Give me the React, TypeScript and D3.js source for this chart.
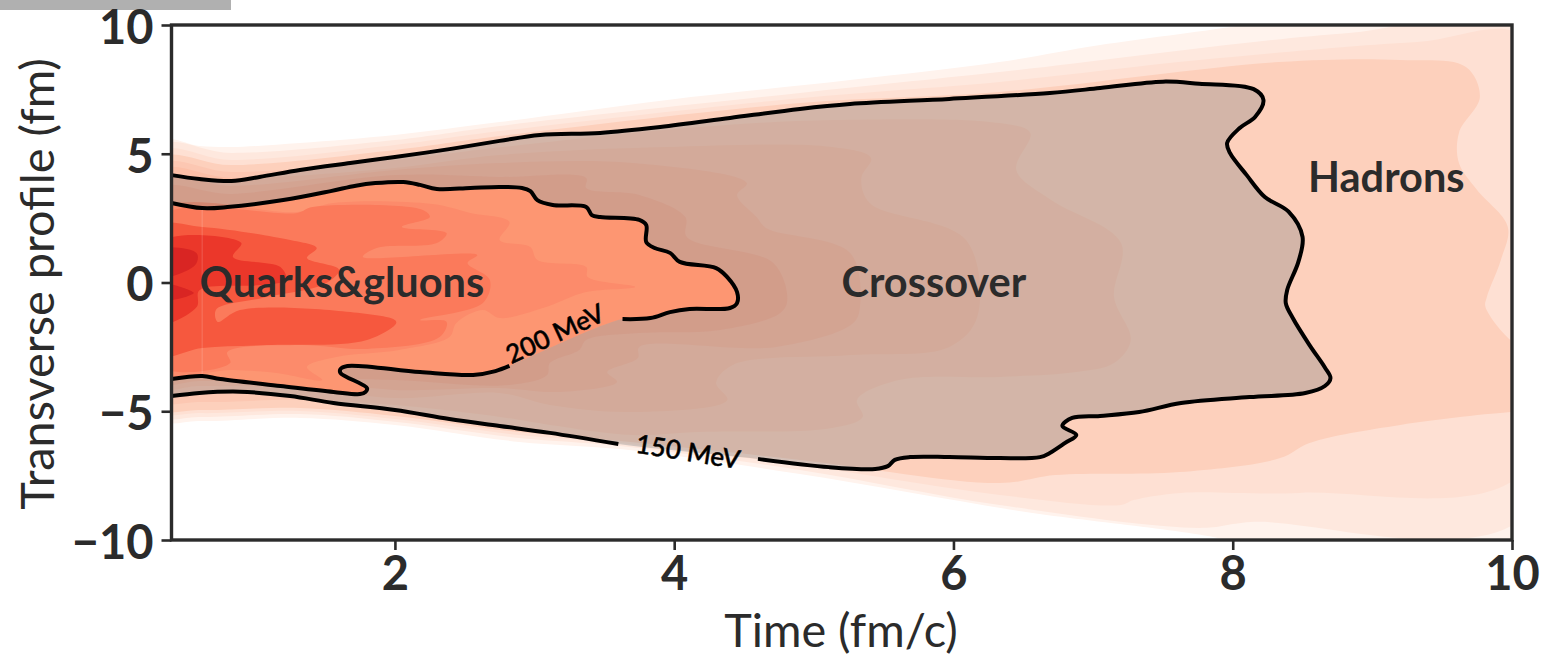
import * as d3 from 'd3';
import React, { useEffect, useRef } from 'react';

type Pt = [number, number]; // [time fm/c, transverse fm]

const xTicks = [2, 4, 6, 8, 10];
const yTicks = [-10, -5, 0, 5, 10];

// temperature bands, outermost to innermost
const band1: Pt[] = [[0.3,5.46],[0.6,5.3],[0.83,5.26],[1.32,5.42],[2,5.73],[2.75,6.23],[3.95,7.09],[5.26,7.86],[6.33,8.56],[7.05,9.22],[8.03,9.96],[8.6,10.5],[10.1,10.5],[10.1,-10.5],[8.2,-10.5],[7.96,-10],[6.47,-8.87],[4.9,-7.44],[3.61,-6.47],[2.89,-6.19],[2,-5.53],[1.32,-5.26],[0.6,-5.38],[0.3,-5.26]];
const band2: Pt[] = [[0.3,5.26],[0.83,5.03],[2,5.53],[2.75,6.08],[4.9,7.36],[6.33,8.17],[8.83,9.69],[10.1,9.92],[10.1,-9.03],[8.13,-9.3],[7.76,-9.53],[6.33,-8.64],[4.9,-7.28],[3.61,-6.35],[2.89,-6.04],[2,-5.41],[1.32,-5.11],[0.6,-5.22],[0.3,-5.11]];
const band3: Pt[] = [[0.3,5.03],[0.83,4.76],[2,5.34],[2.75,5.88],[4.9,7.16],[6.33,7.79],[7.76,8.64],[9.32,9.34],[10.1,9.46],[10.1,-7.28],[8.48,-8.17],[7.63,-8.17],[7.29,-8.45],[7.2,-8.64],[6.33,-8.25],[4.9,-7.09],[3.61,-6.23],[2.89,-5.92],[2,-5.3],[1.32,-4.99],[0.6,-5.07],[0.3,-4.95]];
const band4: Pt[] = [[0.3,4.76],[0.83,4.56],[2,5.15],[2.75,5.69],[4.9,6.97],[6.33,7.4],[8.33,8.56],[9.2,8.64],[9.67,8.37],[9.77,7.2],[9.62,5.81],[9.62,4.64],[9.75,3.59],[9.97,2.16],[9.92,0.87],[9.82,-0.56],[9.81,-0.95],[10.01,-2.31],[10.1,-2.4],[10.1,-5.03],[10,-5.03],[9.2,-5.53],[8.55,-6.23],[8.34,-6.82],[7.62,-7.36],[6.73,-7.48],[6.33,-7.79],[4.9,-6.89],[3.61,-6.16],[2.89,-5.81],[2,-5.18],[1.32,-4.87],[0.6,-4.95],[0.3,-4.83]];
const band5: Pt[] = [[0.3,4.52],[0.83,4.29],[2,4.76],[2.75,5.25],[4.18,6.04],[5.13,6.31],[6.33,6.19],[6.55,5.81],[6.45,4.37],[6.7,3.2],[7.2,1.53],[7.15,-0.56],[7.27,-2.23],[7.15,-3.13],[6.88,-3.48],[6.33,-3.67],[5.61,-3.79],[5.31,-4.56],[5.35,-5.22],[5.13,-5.65],[4.18,-5.81],[3.7,-5.92],[3.11,-5.53],[2.75,-5.22],[2,-4.76],[1.32,-4.56],[0.6,-4.64],[0.3,-4.52]];
const band6: Pt[] = [[0.3,4.29],[0.83,4.06],[2,4.45],[2.75,4.95],[3.95,5.26],[5.13,5.26],[5.41,4.83],[5.34,4.06],[5.4,3.09],[6.09,1.65],[6.17,-1.34],[5.97,-2.5],[5.26,-2.82],[4.42,-3.2],[4.3,-3.9],[4.38,-4.56],[3.7,-5.03],[3.11,-4.76],[2.75,-4.29],[2,-4.49],[1.32,-4.1],[0.6,-4.02],[0.3,-4.02]];
const band7: Pt[] = [[0.3,3.98],[0.83,3.75],[2,4.37],[2.75,4.64],[3.7,4.64],[4.52,3.86],[4.45,3.4],[4.59,2.54],[4.66,2.11],[5.26,1.15],[5.33,-0.95],[5.28,-1.58],[4.73,-2.5],[3.75,-2.5],[3.74,-2.93],[3.52,-3.48],[3.59,-3.86],[3.18,-4.25],[2.75,-4.1],[2,-4.17],[1.32,-3.83],[0.6,-3.83],[0.3,-3.83]];
const band8: Pt[] = [[0.3,3.59],[0.83,3.44],[2,4.17],[2.75,4.1],[3.37,4.06],[3.37,3.67],[3.75,3.4],[4.08,2.54],[4.09,1.77],[4.71,0.76],[4.81,-0.68],[4.76,-1.18],[4.33,-1.84],[3.75,-1.96],[3.37,-2.23],[3.32,-2.62],[3.11,-3.13],[3.09,-3.59],[2.82,-3.98],[2,-3.79],[1.32,-3.71],[0.6,-3.67],[0.3,-3.67]];
const band9: Pt[] = [[0.3,2.74],[1.3,2.74],[1.56,3.09],[2.27,3.05],[2.54,2.7],[2.82,2.35],[2.75,1.65],[2.97,1.38],[3.02,0.87],[3.37,0.6],[3.38,0.21],[3.72,-0.17],[3.37,-0.37],[3.06,-0.99],[2.75,-1.38],[2.63,-1.07],[2.44,-1.57],[2.39,-2.12],[2.03,-2.62],[1.58,-2.89],[1.37,-3.28],[1.48,-3.79],[1.15,-3.51],[0.84,-3.4],[0.3,-3.4]];
const band10: Pt[] = [[0.3,2.5],[1.3,2.7],[1.41,2.93],[2.2,2.82],[2.25,2.54],[2.05,2.16],[2.37,1.92],[2.3,1.53],[1.87,1.34],[1.77,0.99],[2.59,1.07],[2.52,0.76],[2.68,0.1],[2.63,-0.8],[2.18,-1.46],[2.37,-1.53],[2.32,-2.12],[1.8,-2.58],[1.32,-2.43],[0.8,-2.7],[0.82,-3.13],[0.3,-3.2]];
const band11: Pt[] = [[0.3,2.16],[0.62,2.16],[1.25,1.65],[1.44,1.34],[1.37,0.95],[1.6,0.5],[1.5,-0.05],[1.05,-0.6],[0.72,-1.05],[0.73,-1.53],[0.89,-1.07],[1.68,-1.15],[2.01,-1.53],[1.8,-2.23],[1.08,-2.43],[0.62,-2.54],[0.3,-2.8]];
const band12: Pt[] = [[0.3,1.53],[0.9,1.53],[0.84,0.99],[1.18,0.6],[1.22,0.1],[1.03,-0.1],[0.6,-0.3],[0.58,-0.95],[0.3,-1.6]];
const band13a: Pt[] = [[0.3,1.26],[0.58,1.14],[0.57,0.68],[0.3,0.21]];
const band13b: Pt[] = [[0.3,-0.04],[0.56,-0.41],[0.3,-0.68]];

// 150 MeV and 200 MeV isotherms, in two arcs each, broken where the label sits
const contour150a: Pt[] = [[0.4,4.17],[0.6,4.02],[0.83,3.94],[1.03,4.1],[1.32,4.37],[1.68,4.64],[2,4.87],[2.39,5.18],[2.75,5.5],[3.04,5.73],[3.47,5.81],[3.9,6.04],[4.4,6.39],[4.9,6.74],[5.26,6.93],[5.97,7.13],[6.69,7.36],[7.05,7.55],[7.5,7.8],[7.76,7.72],[8.15,7.51],[8.22,7.09],[8.16,6.43],[8.05,6],[7.96,5.42],[7.98,5.03],[8.1,4.17],[8.23,3.32],[8.4,2.75],[8.5,1.77],[8.47,0.8],[8.39,-0.29],[8.38,-0.8],[8.43,-1.38],[8.55,-2.43],[8.66,-3.3],[8.7,-3.71],[8.66,-4.02],[8.52,-4.29],[8.12,-4.45],[7.63,-4.68],[7.33,-5.03],[7.05,-5.18],[6.85,-5.26],[6.78,-5.57],[6.88,-5.92],[6.8,-6.23],[6.69,-6.62],[6.62,-6.78],[6.33,-6.82],[5.97,-6.78],[5.69,-6.78],[5.58,-6.89],[5.53,-7.13],[5.44,-7.24],[5.11,-7.17],[4.6,-6.85]];
const contour150b: Pt[] = [[3.6,-6.27],[3.11,-5.84],[2.75,-5.57],[2.39,-5.3],[2,-4.95],[1.56,-4.68],[1.25,-4.41],[0.89,-4.24],[0.6,-4.29],[0.4,-4.41]];
const contour200a: Pt[] = [[0.4,3.09],[0.62,2.89],[0.8,2.93],[1.2,3.2],[1.54,3.55],[1.72,3.76],[1.86,3.86],[2.06,3.9],[2.18,3.79],[2.3,3.63],[2.54,3.67],[2.75,3.71],[2.91,3.67],[2.97,3.55],[3.02,3.2],[3.13,3.01],[3.37,2.93],[3.41,2.62],[3.47,2.54],[3.75,2.43],[3.8,2.23],[3.8,1.57],[3.86,1.34],[3.97,1.15],[4.04,0.8],[4.3,0.56],[4.38,0.21],[4.45,-0.37],[4.45,-0.8],[4.4,-0.99],[4.11,-1.03],[3.97,-1.15],[3.83,-1.38],[3.63,-1.42]];
const contour200b: Pt[] = [[2.82,-3.24],[2.72,-3.44],[2.56,-3.59],[2.18,-3.48],[1.66,-3.24],[1.61,-3.36],[1.61,-3.51],[1.8,-4.1],[1.79,-4.25],[1.75,-4.33],[1.56,-4.25],[1.18,-4.02],[0.75,-3.75],[0.62,-3.63],[0.4,-3.75]];

const seamTime = 0.62;
const seamRange = [-3.63, 2.89];

const regionNames = ['Quarks&gluons', 'Crossover', 'Hadrons'];
const regionTimes = [1.62, 5.86, 9.1];
const regionProfiles = [0, 0, 4.06];

const isoNames = ['200 MeV', '150 MeV'];
const isoTimes = [3.145, 4.1];
const isoProfiles = [-1.96, -6.54];
const isoAngles = [-25, 9];

const bandColors = ['#fff3ed', '#fee8de', '#fee0d3', '#fdd0bc', '#fcc7b2', '#fcbfa7', '#fcb69c', '#fbac90'];
const coreBands = [band9, band10, band11, band12, band13a, band13b];
const coreColors = ['#fc8b6b', '#fb7a5b', '#f6583e', '#eb372a', '#d92523', '#d92523'];

const width = 1544;
const height = 659;
const left = 171.5;
const right = 1512;
const top = 25;
const bottom = 540;
const ink = '#2b2b2b';
const font = 'Lato, sans-serif';

const App = () => {
  const ref = useRef<SVGSVGElement>(null);

  useEffect(() => {
    const svg = d3.select(ref.current);
    svg.selectAll('*').remove();

    const x = d3.scaleLinear().domain([0.4, 10]).range([left, right]);
    const y = d3.scaleLinear().domain([-10, 10]).range([bottom, top]);

    // leftover grey strip in the corner of the source image
    svg.append('rect').attr('width', 231).attr('height', 10).attr('fill', '#b0b0b0');

    svg.append('clipPath').attr('id', 'plot-clip').append('rect')
      .attr('x', left).attr('y', top).attr('width', right - left).attr('height', bottom - top);

    const plot = svg.append('g').attr('clip-path', 'url(#plot-clip)');

    const area = d3.line<Pt>().x(d => x(d[0])).y(d => y(d[1])).curve(d3.curveCatmullRomClosed.alpha(0.5));
    const iso = d3.line<Pt>().x(d => x(d[0])).y(d => y(d[1])).curve(d3.curveCatmullRom.alpha(0.5));

    const outerBands = [band1, band2, band3, band4, band5, band6, band7, band8];
    plot.selectAll('path.band').data(outerBands).enter().append('path')
      .attr('class', 'band')
      .attr('d', d => area(d))
      .attr('fill', (_, i) => bandColors[i]);

    const loop150 = [...contour150a, ...contour150b];
    const loop200 = [...contour200a, ...contour200b];

    plot.append('path').attr('d', iso(loop200) + 'Z').attr('fill', '#fd9672');

    plot.selectAll('path.core').data(coreBands).enter().append('path')
      .attr('class', 'core')
      .attr('d', d => area(d))
      .attr('fill', (_, i) => coreColors[i]);

    plot.append('line')
      .attr('x1', x(seamTime)).attr('x2', x(seamTime))
      .attr('y1', y(seamRange[1])).attr('y2', y(seamRange[0]))
      .attr('stroke', '#fff').attr('stroke-opacity', 0.12).attr('stroke-width', 1.5);

    // grey veil between the two isotherms
    plot.append('path')
      .attr('d', iso(loop150) + 'Z ' + iso(loop200) + 'Z')
      .attr('fill-rule', 'evenodd')
      .attr('fill', '#808080')
      .attr('fill-opacity', 0.33);

    plot.selectAll('path.iso').data([contour150a, contour150b, contour200a, contour200b]).enter().append('path')
      .attr('class', 'iso')
      .attr('d', d => iso(d))
      .attr('fill', 'none')
      .attr('stroke', '#000')
      .attr('stroke-width', 4);

    svg.selectAll('text.region').data(regionNames).enter().append('text')
      .attr('class', 'region')
      .attr('x', (_, i) => x(regionTimes[i]))
      .attr('y', (_, i) => y(regionProfiles[i]) - 2)
      .attr('text-anchor', 'middle')
      .attr('dominant-baseline', 'central')
      .attr('font-family', font)
      .attr('font-weight', 700)
      .attr('font-size', 41.5)
      .attr('fill', ink)
      .text(d => d);

    svg.selectAll('text.iso-label').data(isoNames).enter().append('text')
      .attr('class', 'iso-label')
      .attr('text-anchor', 'middle')
      .attr('dominant-baseline', 'central')
      .attr('font-family', font)
      .attr('font-weight', 500)
      .attr('font-size', 26)
      .attr('fill', '#000')
      .attr('stroke', '#000')
      .attr('stroke-width', 0.5)
      .attr('transform', (_, i) => `translate(${x(isoTimes[i])},${y(isoProfiles[i])}) rotate(${isoAngles[i]})`)
      .text(d => d);

    // spines
    svg.append('rect')
      .attr('x', left).attr('y', top).attr('width', right - left).attr('height', bottom - top)
      .attr('fill', 'none').attr('stroke', ink).attr('stroke-width', 3.4);

    const xAxis = svg.append('g').attr('transform', `translate(0,${bottom})`)
      .call(d3.axisBottom(x).tickValues(xTicks).tickSizeOuter(0).tickSize(10).tickPadding(7));
    const yAxis = svg.append('g').attr('transform', `translate(${left},0)`)
      .call(d3.axisLeft(y).tickValues(yTicks).tickSizeOuter(0).tickSize(10).tickPadding(8));

    [xAxis, yAxis].forEach(axis => {
      axis.select('.domain').remove();
      axis.selectAll('line').attr('stroke', ink).attr('stroke-width', 2.6);
      axis.selectAll('text')
        .attr('font-family', font)
        .attr('font-weight', 700)
        .attr('font-size', 47)
        .attr('fill', ink);
    });
    yAxis.selectAll('text').attr('dy', '0.39em');

    svg.append('text')
      .attr('x', 841).attr('y', 647)
      .attr('text-anchor', 'middle')
      .attr('font-family', font).attr('font-size', 46.8).attr('fill', ink)
      .text('Time (fm/c)');

    svg.append('text')
      .attr('transform', `translate(54,284) rotate(-90)`)
      .attr('text-anchor', 'middle')
      .attr('font-family', font).attr('font-size', 46.8).attr('fill', ink)
      .text('Transverse profile (fm)');
  }, []);

  return (
    <svg ref={ref} width={width} height={height} style={{ position: 'absolute', left: 0, top: 0 }} />
  );
};

export default App;
